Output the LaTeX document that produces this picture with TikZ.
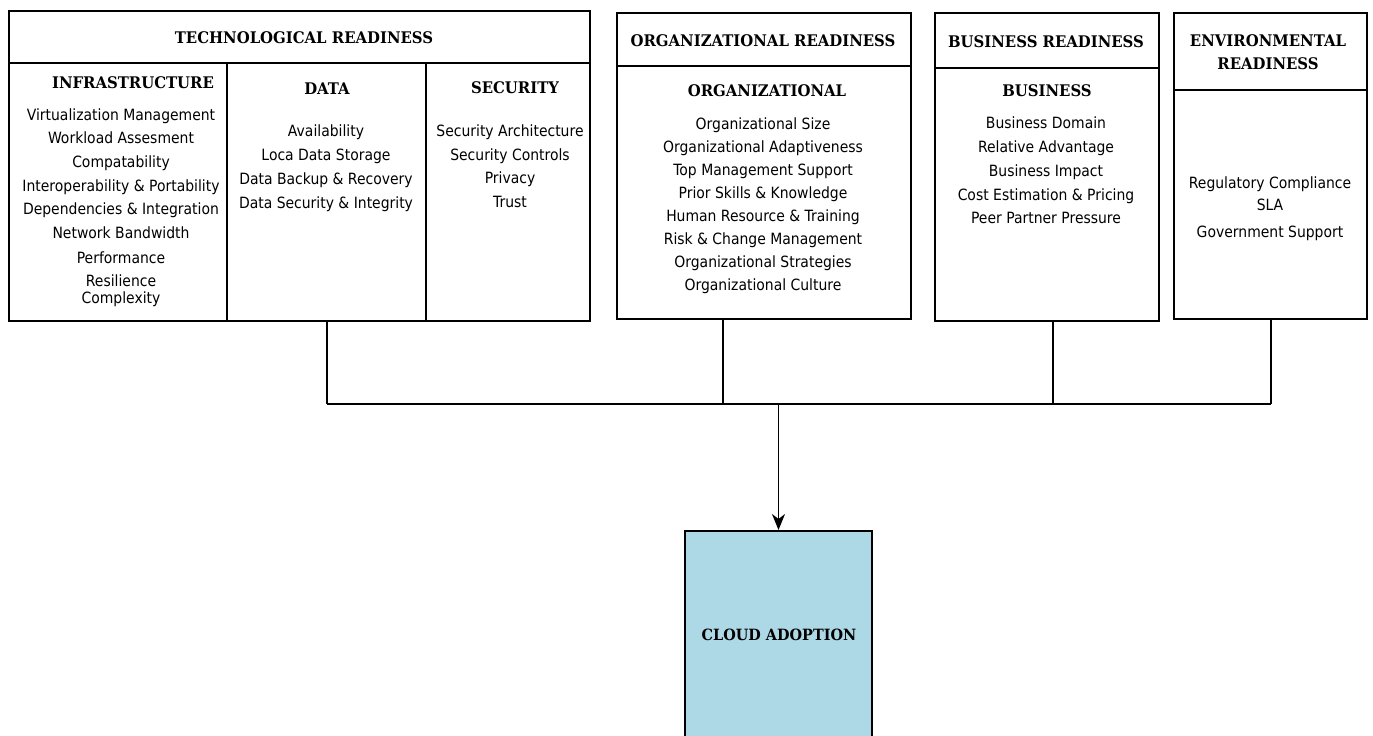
\documentclass[tikz,border=0pt]{standalone}
\usepackage{fontspec}
\setmainfont{DejaVu Sans}[FakeStretch=0.9]
\newfontfamily\hdfont{DejaVu Serif}[FakeStretch=0.93]
\usetikzlibrary{arrows.meta}
\definecolor{cloudblue}{RGB}{173,216,230}
\begin{document}
\begin{tikzpicture}[x=1pt,y=-1pt,
  panel/.style={draw=black,line width=2pt,anchor=north west,inner sep=0pt,minimum width=#1},
  rule/.style={line width=2pt},
  divider/.style={line width=1.5pt},
  hdtext/.style={font=\hdfont\bfseries\fontsize{16}{19}\selectfont,anchor=base,inner sep=0pt},
  item/.style={font=\fontsize{15.5}{18}\selectfont,anchor=base,inner sep=0pt},
  link/.style={line width=1.6pt},
]
\useasboundingbox (0,0) rectangle (1373,736);

% panels
\node[panel=581pt,minimum height=310pt] (tech) at (8,10) {};
\node[panel=294pt,minimum height=306pt] (org) at (616,12) {};
\node[panel=224pt,minimum height=308pt] (bus) at (934,12) {};
\node[panel=193pt,minimum height=306pt] (env) at (1173,12) {};

% header rules
\draw[rule] (tech.west |- 0,63) -- (tech.east |- 0,63);
\draw[rule] (org.west |- 0,66) -- (org.east |- 0,66);
\draw[rule] (bus.west |- 0,68) -- (bus.east |- 0,68);
\draw[rule] (env.west |- 0,90) -- (env.east |- 0,90);

% column dividers
\coordinate (d1) at (227,63);
\coordinate (d2) at (426,63);
\draw[divider] (d1) -- (d1 |- tech.south);
\draw[divider] (d2) -- (d2 |- tech.south);

% headers
\node[hdtext] (techh) at (304,43) {TECHNOLOGICAL READINESS};
\node[hdtext] (infh) at (133,88) {INFRASTRUCTURE};
\node[hdtext] (datah) at (327,94) {DATA};
\node[hdtext] (sech) at (515,93) {SECURITY};
\node[hdtext] (orgh) at (763,46) {ORGANIZATIONAL READINESS};
\node[hdtext] (orgs) at (767,96) {ORGANIZATIONAL};
\node[hdtext] (bush) at (1046,47) {BUSINESS READINESS};
\node[hdtext] (buss) at (1047,96) {BUSINESS};
\node[hdtext] (envh1) at (1268,46) {ENVIRONMENTAL};
\node[hdtext] (envh2) at (1268,69) {READINESS};

% items
\foreach \t/\y [count=\i] in {Virtualization Management/120,Workload Assesment/143,Compatability/167,Interoperability \& Portability/191,Dependencies \& Integration/214,Network Bandwidth/238,Performance/263,Resilience/286,Complexity/303}
  \node[item] (inf\i) at (121,\y) {\t};
\foreach \t/\y [count=\i] in {Availability/136,Loca Data Storage/160,Data Backup \& Recovery/184,Data Security \& Integrity/208}
  \node[item] (dat\i) at (326,\y) {\t};
\foreach \t/\y [count=\i] in {Security Architecture/136,Security Controls/160,Privacy/183,Trust/207}
  \node[item] (sec\i) at (510,\y) {\t};
\foreach \t/\y [count=\i] in {Organizational Size/129,Organizational Adaptiveness/152,Top Management Support/175,Prior Skills \& Knowledge/198,Human Resource \& Training/221,Risk \& Change Management/244,Organizational Strategies/267,Organizational Culture/290}
  \node[item] (org\i) at (763,\y) {\t};
\foreach \t/\y [count=\i] in {Business Domain/128,Relative Advantage/152,Business Impact/176,Cost Estimation \& Pricing/200,Peer Partner Pressure/223}
  \node[item] (bus\i) at (1046,\y) {\t};
\foreach \t/\y [count=\i] in {Regulatory Compliance/188,SLA/210,Government Support/237}
  \node[item] (env\i) at (1270,\y) {\t};

% cloud adoption
\node[draw=black,line width=2pt,fill=cloudblue,anchor=north,inner sep=0pt,
  minimum width=187pt,minimum height=230pt] (cloud) at (778.5,530) {};
\node[hdtext,font=\hdfont\bfseries\fontsize{15.5}{18}\selectfont] (cloudt) at (779,640) {CLOUD ADOPTION};

% connectors
\coordinate (j1) at (327,404);
\coordinate (j2) at (723,404);
\coordinate (j3) at (1053,404);
\coordinate (j4) at (1271,404);
\draw[link] (j1 |- tech.south) -- (j1);
\draw[link] (j2 |- org.south) -- (j2);
\draw[link] (j3 |- bus.south) -- (j3);
\draw[link] (j4 |- env.south) -- (j4);
\draw[link] (j1) -- (j4);
\draw[link,-{Stealth[length=16pt,width=13pt,inset=5pt]}] (cloud.north |- j1) -- (cloud.north);
\end{tikzpicture}
\end{document}
